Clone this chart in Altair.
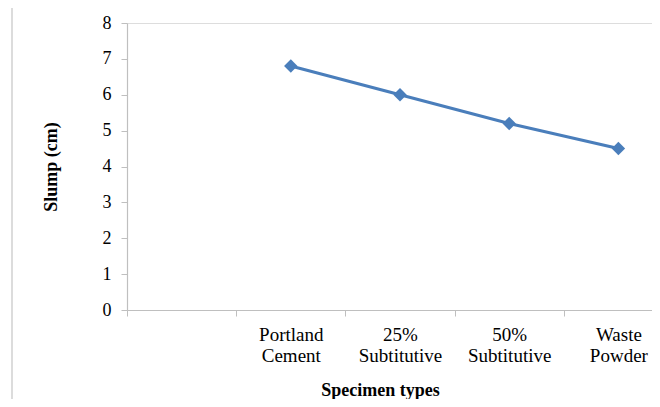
import altair as alt
import pandas as pd

categories = [" ", "Portland Cement", "25% Subtitutive", "50% Subtitutive", "Waste Powder"]
series_categories = ["Portland Cement", "25% Subtitutive", "50% Subtitutive", "Waste Powder"]
slump_cm = [6.8, 6.0, 5.2, 4.5]
y_ticks = [0, 1, 2, 3, 4, 5, 6, 7, 8]

df = pd.DataFrame({"type": series_categories, "slump": slump_cm})

FONT = "Liberation Serif"
BLUE = "#4A7EBB"

x_enc = alt.X(
    "type:N",
    sort=categories,
    scale=alt.Scale(domain=categories, range=[0, 546], paddingInner=0, paddingOuter=0),
    axis=alt.Axis(
        title="Specimen types",
        labelAngle=0,
        labelExpr="indexof(datum.label, ' ') < 1 ? '' : split(datum.label, ' ')",
        labelFont=FONT, labelFontSize=19, labelColor="#000000",
        labelLineHeight=21, labelPadding=9, labelBaseline="top",
        tickBand="extent", tickSize=6, tickColor="#BFBFBF",
        domainColor="#BFBFBF", domainWidth=1.2,
        titleFont=FONT, titleFontSize=18, titleFontWeight="bold", titleColor="#000000",
        titleX=253, titleY=85, titleBaseline="alphabetic",
        grid=False,
    ),
)
y_enc = alt.Y(
    "slump:Q",
    scale=alt.Scale(domain=[0, 8], nice=False, zero=True),
    axis=alt.Axis(
        title="Slump (cm)", values=y_ticks,
        labelFont=FONT, labelFontSize=18, labelColor="#000000", labelPadding=10,
        tickSize=6, tickColor="#BFBFBF", domainColor="#BFBFBF", domainWidth=1.2,
        titleFont=FONT, titleFontSize=18, titleFontWeight="bold", titleColor="#000000",
        titlePadding=42, grid=False,
    ),
)

line = alt.Chart(df).mark_line(color=BLUE, strokeWidth=3).encode(x=x_enc, y=y_enc)
pts = alt.Chart(df).mark_point(shape="diamond", filled=True, color=BLUE, size=180, opacity=1).encode(x=x_enc, y=y_enc)

border = alt.Chart(pd.DataFrame({"k": [0]})).mark_rule(color="#D0D0D0", strokeWidth=1.5).encode(
    x=alt.value(-115), y=alt.value(-20), y2=alt.value(400)
)

chart = alt.layer(border, line, pts).properties(
    width=525, height=287,
    autosize=alt.AutoSizeParams(type="none"),
    padding={"left": 119, "top": 15, "right": 0, "bottom": 89},
).configure_view(stroke=None).configure(background="white")

chart.save("out.html", embed_options={"renderer": "svg", "actions": False})
